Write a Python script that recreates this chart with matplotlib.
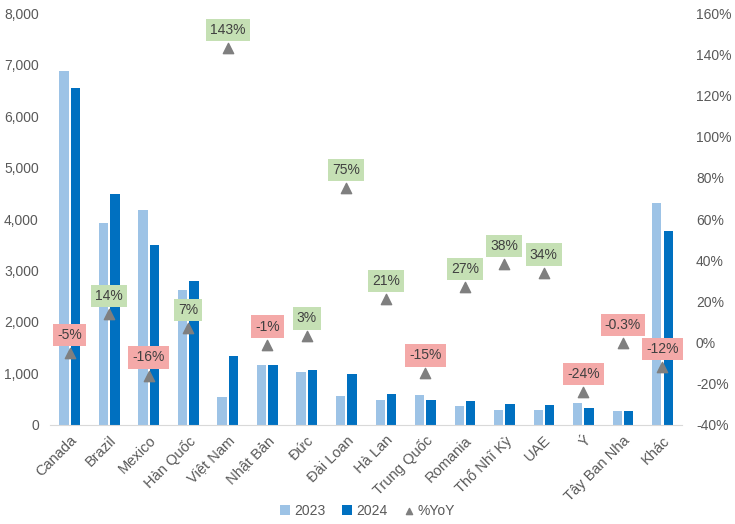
import matplotlib
matplotlib.use("Agg")
import matplotlib.pyplot as plt
import numpy as np
from matplotlib.ticker import FuncFormatter

plt.rcParams['font.family'] = ['Liberation Sans', 'DejaVu Sans']

categories = ["Canada", "Brazil", "Mexico", "Hàn Quốc", "Việt Nam", "Nhật Bản", "Đức",
              "Đài Loan", "Hà Lan", "Trung Quốc", "Romania", "Thổ Nhĩ Kỳ", "UAE", "Ý",
              "Tây Ban Nha", "Khác"]
v2023 = [6880, 3920, 4180, 2620, 545, 1165, 1030, 565, 485, 585, 370, 290, 290, 430, 272, 4310]
v2024 = [6540, 4490, 3500, 2800, 1340, 1165, 1070, 990, 600, 485, 465, 410, 390, 330, 272, 3770]
yoy = [-5, 14, -16, 7, 143, -1, 3, 75, 21, -15, 27, 38, 34, -24, -0.3, -12]
yoy_labels = ["-5%", "14%", "-16%", "7%", "143%", "-1%", "3%", "75%", "21%", "-15%",
              "27%", "38%", "34%", "-24%", "-0.3%", "-12%"]

c23 = "#9DC3E6"
c24 = "#0070C0"
tick_col = "#595959"

fig = plt.figure(figsize=(7.35, 5.24), dpi=100)
ax = fig.add_axes([0.068, 0.189, 0.86, 0.786])
ax2 = ax.twinx()

x = np.arange(len(categories))
w = 0.23
ax.bar(x - 0.145, v2023, width=w, color=c23, label="2023", zorder=2)
ax.bar(x + 0.145, v2024, width=w, color=c24, label="2024", zorder=2)

ax.set_xlim(-0.5, len(categories) - 0.5)
ax.set_ylim(0, 8000)
ax.set_yticks(np.arange(0, 8001, 1000))
ax.yaxis.set_major_formatter(FuncFormatter(lambda v, p: f"{int(v):,}"))
ax.set_xticks(x)
ax.set_xticklabels(categories, rotation=45, ha="right", rotation_mode="anchor")
for s in ["top", "right", "left"]:
    ax.spines[s].set_visible(False)
    ax2.spines[s].set_visible(False)
ax.spines["bottom"].set_color("#D9D9D9")
ax2.spines["bottom"].set_visible(False)
ax.tick_params(axis="both", length=0, colors=tick_col, labelsize=10)
ax.tick_params(axis="x", labelsize=10.5)
ax.tick_params(axis="y", pad=8)
ax.tick_params(axis="x", pad=6)

ax2.set_ylim(-40, 160)
ax2.set_yticks(np.arange(-40, 161, 20))
ax2.yaxis.set_major_formatter(FuncFormatter(lambda v, p: f"{int(v)}%"))
ax2.tick_params(axis="y", length=0, colors=tick_col, labelsize=10, pad=10)

ax2.scatter(x, yoy, marker="^", s=55, color="#7F7F7F", zorder=3, label="%YoY")
for xi, yv, lab in zip(x, yoy, yoy_labels):
    fc = "#C5E0B4" if yv > 0 else "#F4A9A8"
    ax2.annotate(lab, (xi, yv), xytext=(0, 13), textcoords="offset points",
                 ha="center", va="center", fontsize=10, color="#404040",
                 bbox=dict(boxstyle="square,pad=0.3", fc=fc, ec="none"), zorder=4)

h1, l1 = ax.get_legend_handles_labels()
h2, l2 = ax2.get_legend_handles_labels()
fig.legend(h1 + h2, l1 + l2, loc="center", bbox_to_anchor=(0.5, 0.025), ncol=3,
           frameon=False, fontsize=10, labelcolor=tick_col, handlelength=0.7,
           handletextpad=0.3, columnspacing=1.2, markerscale=0.6)

fig.savefig("out.png", dpi=100)
